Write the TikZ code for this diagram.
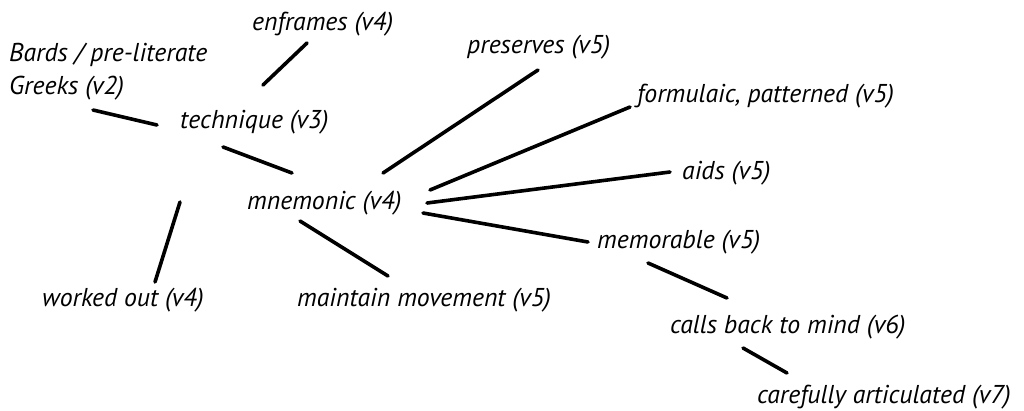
\documentclass[tikz,border=0pt]{standalone}
\usepackage{fontspec}
\setmainfont{PT Sans}
\begin{document}
\begin{tikzpicture}[x=1pt,y=-1pt,
  lbl/.style={anchor=west,inner sep=0pt,font=\itshape\fontsize{25.8}{33}\selectfont},
  link/.style={line width=3.6pt,line cap=round}]
\useasboundingbox (0,0) rectangle (1024,410);

% concept labels
\node[lbl,align=left] (bards) at (9,72) {Bards / pre-literate\\Greeks (v2)};
\node[lbl] (enframes)  at (252,24)  {enframes (v4)};
\node[lbl] (technique) at (180,122) {technique (v3)};
\node[lbl] (preserves) at (467,47)  {preserves (v5)};
\node[lbl] (formulaic) at (637,96)  {formulaic, patterned (v5)};
\node[lbl] (aids)      at (682,173) {aids (v5)};
\node[lbl] (mnemonic)  at (247,203) {mnemonic (v4)};
\node[lbl] (memorable) at (597,242) {memorable (v5)};
\node[lbl] (worked)    at (42,300)  {worked out (v4)};
\node[lbl] (maintain)  at (297,300) {maintain movement (v5)};
\node[lbl] (calls)     at (670,327) {calls back to mind (v6)};
\node[lbl] (carefully) at (757,397) {carefully articulated (v7)};

% end points of the links, which stop short of the labels
\coordinate (bards-e)     at (93,110);
\coordinate (tech-w)      at (157,125);
\coordinate (tech-n)      at (263,85);
\coordinate (enframes-s)  at (307,43);
\coordinate (tech-s)      at (223,147);
\coordinate (mnem-nw)     at (292,173);
\coordinate (tech-sw)     at (180,202);
\coordinate (worked-n)    at (155,282);
\coordinate (mnem-ne)     at (383,173);
\coordinate (preserves-s) at (538,70);
\coordinate (mnem-e1)     at (430,190);
\coordinate (formulaic-w) at (630,107);
\coordinate (mnem-e2)     at (427,203);
\coordinate (aids-w)      at (670,172);
\coordinate (mnem-e3)     at (423,213);
\coordinate (memorable-w) at (588,242);
\coordinate (mnem-s)      at (300,221);
\coordinate (maintain-n)  at (388,276);
\coordinate (memorable-s) at (648,263);
\coordinate (calls-n)     at (727,298);
\coordinate (calls-s)     at (743,348);
\coordinate (carefully-n) at (787,373);

% links
\draw[link] (bards-e) -- (tech-w);
\draw[link] (tech-n) -- (enframes-s);
\draw[link] (tech-s) -- (mnem-nw);
\draw[link] (tech-sw) -- (worked-n);
\draw[link] (mnem-ne) -- (preserves-s);
\draw[link] (mnem-e1) -- (formulaic-w);
\draw[link] (mnem-e2) -- (aids-w);
\draw[link] (mnem-e3) -- (memorable-w);
\draw[link] (mnem-s) -- (maintain-n);
\draw[link] (memorable-s) -- (calls-n);
\draw[link] (calls-s) -- (carefully-n);
\end{tikzpicture}
\end{document}
